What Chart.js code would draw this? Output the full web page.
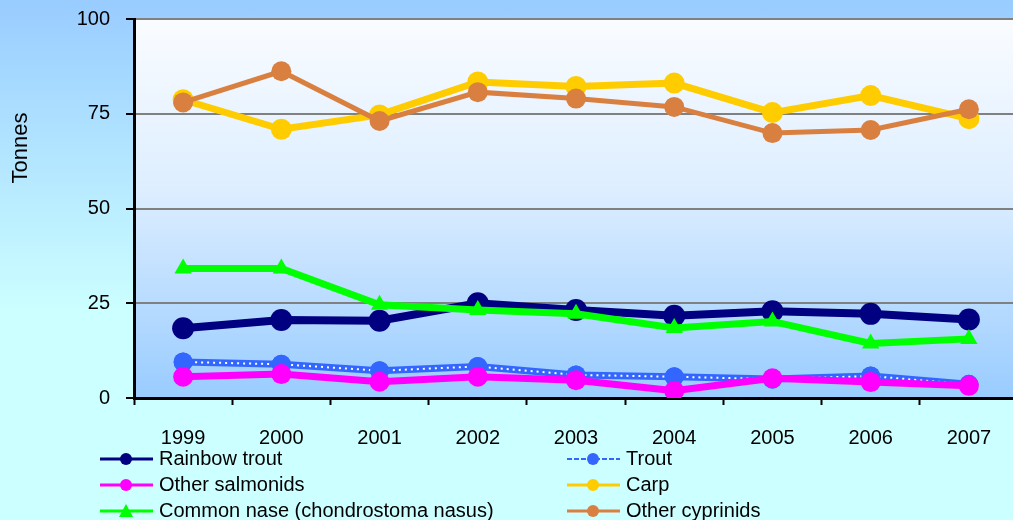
<!DOCTYPE html>
<html>
<head>
<meta charset="utf-8">
<script src="https://cdn.jsdelivr.net/npm/chart.js@4"></script>
<style>
    html, body { margin: 0; padding: 0; overflow: hidden; }
    body {
        width: 1013px;
        height: 520px;
        background: linear-gradient(to bottom, #99CCFF 0%, #CCFFFF 60%, #CCFFFF 100%);
    }
    #grafico { display: block; }
</style>
</head>
<body>
<canvas id="grafico" width="1013" height="520"></canvas>
<script>
const anos = ["1999", "2000", "2001", "2002", "2003", "2004", "2005", "2006", "2007"];

const rainbowTrout   = [18.4, 20.6, 20.4, 25.0, 23.2, 21.7, 22.9, 22.2, 20.7];
const trout          = [9.5, 8.9, 7.2, 8.3, 6.1, 5.6, 5.0, 5.8, 3.6];
const otherSalmonids = [5.6, 6.3, 4.3, 5.6, 4.7, 1.9, 5.2, 4.2, 3.2];
const carp           = [78.7, 70.9, 74.7, 83.4, 82.2, 83.1, 75.3, 79.8, 73.7];
const commonNase     = [34.2, 34.2, 24.6, 23.2, 22.2, 18.5, 20.2, 14.4, 15.6];
const otherCyprinids = [78.0, 86.2, 73.1, 80.7, 79.0, 76.8, 69.9, 70.7, 76.2];

const yTicks = [0, 25, 50, 75, 100];

const FONTE = "'Liberation Sans', Arial, sans-serif";
Chart.defaults.font.family = FONTE;
Chart.defaults.color = "#000";

// no original a area do grafico passa da borda direita da imagem
const estenderDireita = {
    id: "estenderDireita",
    afterLayout(chart) {
        const dir = 1018;
        const x = chart.scales.x;
        chart.chartArea.right = dir;
        chart.chartArea.width = dir - chart.chartArea.left;
        x.right = dir;
        x.width = dir - x.left;
        x.configure();
    }
};

const fundoPlot = {
    id: "fundoPlot",
    beforeDraw(chart) {
        const { ctx, chartArea: a } = chart;
        const grad = ctx.createLinearGradient(0, a.top, 0, a.bottom);
        grad.addColorStop(0, "#FAFCFF");
        grad.addColorStop(0.45, "#DDEEFF");
        grad.addColorStop(1, "#99CCFF");
        ctx.save();
        ctx.fillStyle = grad;
        ctx.fillRect(a.left, a.top, a.right - a.left, a.bottom - a.top);
        ctx.restore();
    }
};

// pontinhos brancos por cima da linha azul (Trout)
const pontilhado = {
    id: "pontilhado",
    afterDatasetDraw(chart, args) {
        const ds = chart.data.datasets[args.index];
        if (!ds.pontilhado) return;
        const pts = args.meta.data;
        const ctx = chart.ctx;
        ctx.save();
        ctx.strokeStyle = "#FFFFFF";
        ctx.lineWidth = 2;
        ctx.setLineDash([2, 4]);
        ctx.beginPath();
        pts.forEach((p, i) => {
            if (i === 0) ctx.moveTo(p.x, p.y);
            else ctx.lineTo(p.x, p.y);
        });
        ctx.stroke();
        ctx.restore();
        pts.forEach(p => p.draw(ctx, chart.chartArea));
    }
};

const tituloY = {
    id: "tituloY",
    afterDraw(chart) {
        const ctx = chart.ctx;
        ctx.save();
        ctx.translate(21, 148);
        ctx.rotate(-Math.PI / 2);
        ctx.font = "22px " + FONTE;
        ctx.fillStyle = "#000";
        ctx.textAlign = "center";
        ctx.textBaseline = "middle";
        ctx.fillText("Tonnes", 0, 0);
        ctx.restore();
    }
};

const legendaDuasColunas = {
    id: "legendaDuasColunas",
    afterDraw(chart) {
        const ctx = chart.ctx;
        ctx.save();
        ctx.font = "20px " + FONTE;
        ctx.textBaseline = "middle";
        chart.data.datasets.forEach((ds, i) => {
            const col = i % 2;
            const row = Math.floor(i / 2);
            const x = col === 0 ? 100 : 567;
            const y = 459 + row * 26;

            ctx.strokeStyle = ds.borderColor;
            ctx.lineWidth = ds.pontilhado ? 2 : 3;
            ctx.setLineDash(ds.pontilhado ? [5, 2] : []);
            ctx.beginPath();
            ctx.moveTo(x, y);
            ctx.lineTo(x + 53, y);
            ctx.stroke();
            ctx.setLineDash([]);

            ctx.fillStyle = ds.pointBackgroundColor;
            ctx.beginPath();
            if (ds.pointStyle === "triangle") {
                ctx.moveTo(x + 26, y - 7);
                ctx.lineTo(x + 33, y + 6);
                ctx.lineTo(x + 19, y + 6);
                ctx.closePath();
            } else {
                ctx.arc(x + 26, y, 6, 0, Math.PI * 2);
            }
            ctx.fill();

            ctx.fillStyle = "#000";
            ctx.fillText(ds.label, x + 59, y);
        });
        ctx.restore();
    }
};

function serie(label, dados, cor, largura, raio, ordem, extra) {
    return Object.assign({
        label: label,
        data: dados,
        borderColor: cor,
        backgroundColor: cor,
        borderWidth: largura,
        pointBackgroundColor: cor,
        pointBorderColor: cor,
        pointBorderWidth: 0,
        pointRadius: raio,
        pointHoverRadius: raio,
        pointStyle: "circle",
        tension: 0,
        fill: false,
        order: ordem
    }, extra || {});
}

document.addEventListener("DOMContentLoaded", function () {

    const ctx = document.getElementById("grafico");

    new Chart(ctx, {
        type: "line",
        data: {
            labels: anos,
            datasets: [
                serie("Rainbow trout", rainbowTrout, "#000080", 8, 11, 5),
                serie("Trout", trout, "#3366FF", 7, 9.5, 4, { pontilhado: true }),
                serie("Other salmonids", otherSalmonids, "#FF00FF", 7, 10, 3),
                serie("Carp", carp, "#FFCC00", 7, 10.5, 2),
                serie("Common nase (chondrostoma nasus)", commonNase, "#00FF00", 7, 10, 1, {
                    pointStyle: "triangle"
                }),
                serie("Other cyprinids", otherCyprinids, "#D98040", 5, 10, 0)
            ]
        },
        options: {
            responsive: false,
            animation: false,
            devicePixelRatio: 1,
            layout: {
                autoPadding: false,
                padding: { top: 19, right: 0, bottom: 0, left: 0 }
            },
            plugins: {
                legend: { display: false },
                tooltip: { enabled: false }
            },
            scales: {
                x: {
                    offset: true,
                    afterFit: function (s) {
                        s.height = 122;
                        s.paddingLeft = 0;
                        s.paddingRight = 0;
                    },
                    grid: {
                        display: true,
                        offset: true,
                        drawOnChartArea: false,
                        drawTicks: true,
                        tickLength: 7,
                        tickColor: "#000",
                        tickWidth: 2
                    },
                    border: { display: true, color: "#000", width: 3 },
                    ticks: {
                        font: { size: 20 },
                        color: "#000",
                        padding: 21,
                        maxRotation: 0,
                        autoSkip: false
                    }
                },
                y: {
                    min: 0,
                    max: 100,
                    afterFit: function (s) {
                        s.width = 134;
                        s.paddingTop = 0;
                        s.paddingBottom = 0;
                    },
                    afterBuildTicks: function (s) {
                        s.ticks = yTicks.map(v => ({ value: v }));
                    },
                    grid: {
                        color: "#808080",
                        lineWidth: 2,
                        drawTicks: true,
                        tickLength: 8,
                        tickColor: "#000",
                        tickWidth: 2
                    },
                    border: { display: true, color: "#000", width: 3 },
                    ticks: {
                        font: { size: 20 },
                        color: "#000",
                        padding: 16
                    }
                }
            }
        },
        plugins: [estenderDireita, fundoPlot, pontilhado, tituloY, legendaDuasColunas]
    });

});
</script>
</body>
</html>
